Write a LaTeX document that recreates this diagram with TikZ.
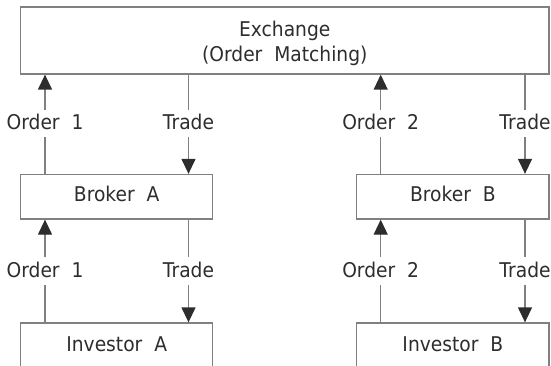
\documentclass[tikz,border=0pt]{standalone}
\usepackage{fontspec}
\setmainfont{DejaVu Sans}[FakeStretch=0.92]
\usetikzlibrary{arrows.meta}
\definecolor{linec}{RGB}{128,128,128}
\definecolor{dk}{RGB}{45,45,45}
\tikzset{
  box/.style={draw=linec, line width=1.3pt, rectangle, inner sep=0pt,
    text=dk, font=\fontsize{20.3}{24}\selectfont, text height=14.6pt, text depth=4.6pt},
  txt/.style={anchor=base, inner sep=0pt, text=dk, font=\fontsize{20.3}{24}\selectfont},
  lbl/.style={anchor=base, inner xsep=2pt, inner ysep=0pt, text=dk,
    font=\fontsize{20.3}{24}\selectfont, text height=20pt, text depth=7pt},
  ln/.style={draw=linec, line width=1.3pt},
  arr/.style={ln, -{Triangle[length=15pt,width=14pt,color=dk]}}
}
\begin{document}
\begin{tikzpicture}[x=1pt,y=-1pt]
\useasboundingbox (0,0) rectangle (551,366);
% boxes
\node[box, minimum width=528.5pt, minimum height=67pt] (exch) at (284.75,40.5) {};
\node[txt] (exchA) at (284.75,36.7) {Exchange};
\node[txt] (exchB) at (284.75,61.7) {(Order\ \ Matching)};
\node[box, minimum width=192pt, minimum height=44.5pt] (brokerA) at (116.7,196.75) {Broker\ \ A};
\node[box, minimum width=192.3pt, minimum height=44.5pt] (brokerB) at (452.85,196.75) {Broker\ \ B};
\node[box, minimum width=192pt, minimum height=46pt] (investorA) at (116.7,346) {Investor\ \ A};
\node[box, minimum width=192.3pt, minimum height=46pt] (investorB) at (452.85,346) {Investor\ \ B};
% labels upper
\node[lbl] (o1u) at (45,130) {Order\ \ 1};
\node[lbl] (t1u) at (188.5,130) {Trade};
\node[lbl] (o2u) at (380.7,130) {Order\ \ 2};
\node[lbl] (t2u) at (525,130) {Trade};
% labels lower
\node[lbl] (o1d) at (45,277.3) {Order\ \ 1};
\node[lbl] (t1d) at (188.5,277.3) {Trade};
\node[lbl] (o2d) at (380.7,277.3) {Order\ \ 2};
\node[lbl] (t2d) at (525,277.3) {Trade};
% upper connectors
\draw[arr] (o1u) -- (o1u |- exch.south);
\draw[ln] (brokerA.north -| o1u) -- (o1u);
\draw[ln] (exch.south -| t1u) -- (t1u);
\draw[arr] (t1u) -- (t1u |- brokerA.north);
\draw[arr] (o2u) -- (o2u |- exch.south);
\draw[ln] (brokerB.north -| o2u) -- (o2u);
\draw[ln] (exch.south -| t2u) -- (t2u);
\draw[arr] (t2u) -- (t2u |- brokerB.north);
% lower connectors
\draw[arr] (o1d) -- (o1d |- brokerA.south);
\draw[ln] (investorA.north -| o1d) -- (o1d);
\draw[ln] (brokerA.south -| t1d) -- (t1d);
\draw[arr] (t1d) -- (t1d |- investorA.north);
\draw[arr] (o2d) -- (o2d |- brokerB.south);
\draw[ln] (investorB.north -| o2d) -- (o2d);
\draw[ln] (brokerB.south -| t2d) -- (t2d);
\draw[arr] (t2d) -- (t2d |- investorB.north);
\end{tikzpicture}
\end{document}
